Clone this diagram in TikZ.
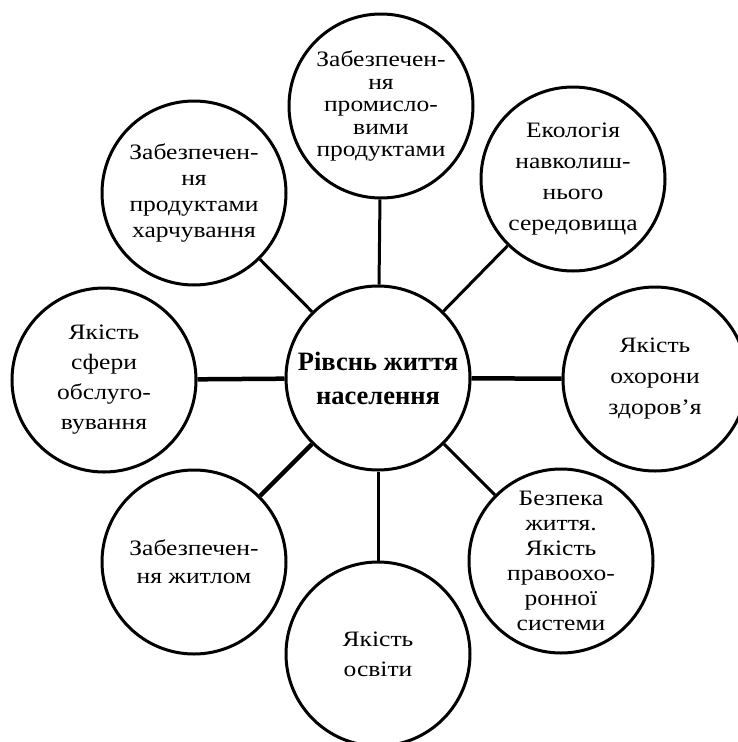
\documentclass[tikz,border=0pt]{standalone}
\usepackage{fontspec}
\setmainfont{Liberation Serif}
\newfontfamily\widefont{Liberation Serif}[FakeStretch=1.16]
\usetikzlibrary{positioning}
\tikzset{
  ring/.style={circle, draw, line width=3pt, inner sep=0pt, minimum size=184pt,
    align=center, font=\widefont\fontsize{22}{#1}\selectfont},
  spoke/.style={line width=3pt},
  heavyspoke/.style={line width=4.5pt}
}

\begin{document}
\begin{tikzpicture}[x=1pt, y=-1pt]
\useasboundingbox (0,0) rectangle (738,742);
%% centre
  \node[ring=34, font=\bfseries\fontsize{26.5}{34}\selectfont] (centre) at (378,378) {Рівснь життя\\населення};
%% upper row
  \node[ring=26] (food) at (194,193) {Забезпечен-\\ня\\продуктами\\харчування};
  \node[ring=22.5] (goods) at (381,106) {Забезпечен-\\ня\\промисло-\\вими\\продуктами};
  \node[ring=31] (ecology) at (573,179) {Екологія\\навколиш-\\нього\\середовища};
%% middle row
  \node[ring=30] (service) at (104,380) {Якість\\сфери\\обслуго-\\вування};
  \node[ring=31] (health) at (655,379) {Якість\\охорони\\здоров’я};
%% lower row
  \node[ring=28] (housing) at (194,562) {Забезпечен-\\ня житлом};
  \node[ring=30] (school) at (378,654) {Якість\\освіти};
  \node[ring=25] (safety) at (561,561) {Безпека\\життя.\\Якість\\правоохо-\\ронної\\системи};
%% spokes
  \draw[spoke] (centre) -- (food);
  \draw[spoke] (centre) -- (goods);
  \draw[spoke] (centre) -- (ecology);
  \draw[heavyspoke] (centre) -- (service);
  \draw[heavyspoke] (centre) -- (health);
  \draw[heavyspoke] (centre) -- (housing);
  \draw[spoke] (centre) -- (school);
  \draw[spoke] (centre) -- (safety);
\end{tikzpicture}
\end{document}
